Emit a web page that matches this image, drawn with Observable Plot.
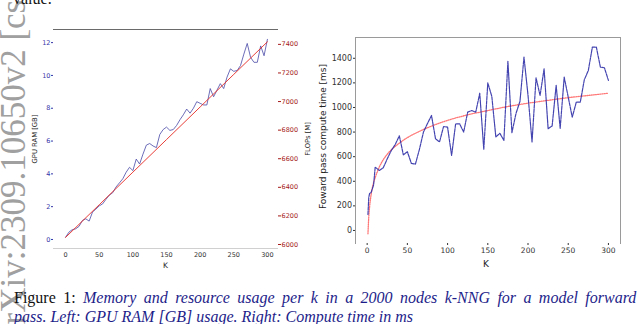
<!DOCTYPE html>
<html><head><meta charset="utf-8">
<script src="https://cdn.jsdelivr.net/npm/d3@7"></script>
<script src="https://cdn.jsdelivr.net/npm/@observablehq/plot@0.6"></script>
<style>
html,body{margin:0;padding:0;background:#fff;}
#page{position:relative;width:640px;height:324px;overflow:hidden;background:#fff;}
#page > svg{position:absolute;top:0;}
</style></head>
<body><div id="page"></div>
<script>
// ---------- data ----------
const kTicks = [0, 50, 100, 150, 200, 250, 300];
const gpuTicks = [0, 2, 4, 6, 8, 10, 12];
const flopTicks = [6000, 6200, 6400, 6600, 6800, 7000, 7200, 7400];
const timeTicks = [0, 200, 400, 600, 800, 1000, 1200, 1400];

const kGpu = [0,5,10,15,20,25,30,35,40,45,50,55,60,65,70,75,80,85,90,95,100,105,110,115,120,125,130,135,140,145,150,155,160,165,170,175,180,185,190,195,200,205,210,215,220,225,230,235,240,245,250,255,260,265,270,275,280,285,290,295,300];
const gpuRam = [0.14,0.45,0.6,0.65,0.8,1.16,1.26,1.12,1.67,1.85,2.05,2.17,2.45,2.7,2.85,3.2,3.45,3.7,4.1,4.4,4.2,4.9,4.6,5.2,5.75,5.85,5.7,5.6,6.4,6.7,6.85,6.65,6.7,6.95,7.3,7.6,7.95,7.7,8.0,8.4,8.3,8.2,8.2,9.2,8.7,9.1,9.5,9.2,9.9,10.4,10.25,10.3,10.6,11.3,11.95,11.1,10.8,10.8,11.8,11.2,12.2];

const kFlops = [0, 50, 100, 150, 200, 250, 300];
const flops = [6050, 6278, 6506, 6734, 6962, 7190, 7418];

const kTime = [1,2,3,5,8,10,15,20,25,30,35,40,45,50,55,60,65,70,75,80,85,90,95,100,105,110,115,120,125,130,135,140,145,150,155,160,165,170,175,180,185,190,195,200,205,210,215,220,225,230,235,240,245,250,255,260,265,270,275,280,285,290,295,300];
const timeMs = [130,270,300,310,370,515,488,510,583,650,700,770,615,640,545,540,660,800,870,935,745,720,845,840,610,867,867,800,962,975,962,1116,660,1200,1090,760,790,732,1375,795,950,1050,1409,1100,720,1241,1098,1314,827,850,1180,830,1247,1084,921,1043,1043,1225,1301,1490,1490,1328,1323,1220];

const kFit = [1,2,3,5,8,10,15,20,25,30,40,50,60,75,100,125,150,175,200,225,250,275,300];
const timeFit = [-27,110,190,295,390,430,515,575,620,655,710,755,790,835,895,940,975,1008,1035,1058,1080,1098,1116];

const gpuData = kGpu.map((k, i) => ({k, v: gpuRam[i]}));
const flopData = kFlops.map((k, i) => ({k, v: flops[i]}));
const timeData = kTime.map((k, i) => ({k, v: timeMs[i]}));
const fitData = kFit.map((k, i) => ({k, v: timeFit[i]}));

const page = document.getElementById("page");
const font = "DejaVu Sans";
const lbl = {text: d => d, textAnchor: "middle", lineAnchor: "middle", fill: "#222"};

// ---------- left chart: GPU RAM ----------
const leftDims = {width: 320, height: 275, marginLeft: 53, marginRight: 43, marginTop: 29, marginBottom: 27};
const leftX = {domain: [-18, 315]};
const left = Plot.plot({
  ...leftDims,
  x: leftX,
  y: {domain: [-0.55, 12.8]},
  style: {fontFamily: font, fontSize: "6.5px", background: "transparent", overflow: "visible"},
  marks: [
    Plot.frame({anchor: "top", stroke: "#6a6a6a"}),
    Plot.frame({anchor: "bottom", stroke: "#d0d0d0"}),
    Plot.axisX({ticks: kTicks, tickSize: 0, tickPadding: 4, color: "#333", label: null, tickFormat: "d"}),
    Plot.axisY({ticks: gpuTicks, tickSize: 2, tickPadding: 1, color: "#3535a8", label: null, tickFormat: "d"}),
    Plot.line(gpuData, {x: "k", y: "v", stroke: "#4a4aa8", strokeWidth: 0.9, strokeOpacity: 0.9}),
    Plot.text(["GPU RAM [GB]"], {...lbl, frameAnchor: "left", dx: -18.5, rotate: -90, fontSize: 6.8}),
    Plot.text(["K"], {...lbl, frameAnchor: "bottom", dy: 17, fontSize: 7.5})
  ]
});
left.style.left = "0px";
page.appendChild(left);

const leftR = Plot.plot({
  ...leftDims,
  x: {...leftX, axis: null},
  y: {domain: [5972, 7504]},
  style: {fontFamily: font, fontSize: "6.5px", background: "transparent", overflow: "visible"},
  marks: [
    Plot.axisY({anchor: "right", ticks: flopTicks, tickSize: 3, tickPadding: 1, color: "#a51a1a", label: null, tickFormat: "d"}),
    Plot.line(flopData, {x: "k", y: "v", stroke: "#e62a24", strokeWidth: 1, strokeOpacity: 0.9}),
    Plot.text(["FLOPs [M]"], {...lbl, frameAnchor: "right", dx: 30, rotate: -90, fontSize: 6.8})
  ]
});
leftR.style.left = "0px";
page.appendChild(leftR);

// ---------- right chart: compute time ----------
const right = Plot.plot({
  width: 320, height: 275, marginLeft: 35, marginRight: 20, marginTop: 37, marginBottom: 32,
  x: {domain: [-14.5, 315]},
  y: {domain: [-106, 1569]},
  style: {fontFamily: font, fontSize: "8px", background: "transparent", overflow: "visible"},
  marks: [
    Plot.frame({anchor: "top", stroke: "#9a9a9a"}),
    Plot.frame({anchor: "left", stroke: "#9a9a9a"}),
    Plot.frame({anchor: "right", stroke: "#9a9a9a"}),
    Plot.axisX({ticks: kTicks, tickSize: 2, tickPadding: 2, color: "#333", fontSize: 7.5, label: null, tickFormat: "d"}),
    Plot.axisY({ticks: timeTicks, tickSize: 2, tickPadding: 1.5, color: "#333", fontSize: 8, label: null, tickFormat: "d"}),
    Plot.line(fitData, {x: "k", y: "v", stroke: "#ff3c3c", strokeWidth: 1.3, strokeOpacity: 0.7, strokeDasharray: "1,1.2", curve: "monotone-x"}),
    Plot.line(timeData, {x: "k", y: "v", stroke: "#3030a8", strokeWidth: 1.2, strokeOpacity: 0.9, strokeDasharray: "3.5,1"}),
    Plot.text(["Foward pass compute time [ms]"], {...lbl, frameAnchor: "left", dx: -32, dy: -4, rotate: -90, fontSize: 9}),
    Plot.text(["K"], {...lbl, frameAnchor: "bottom", dy: 21, dx: -2, fontSize: 9})
  ]
});
right.style.left = "320px";
page.appendChild(right);

// ---------- page decorations: watermark, text fragment, caption ----------
const ns = "http://www.w3.org/2000/svg";
const deco = document.createElementNS(ns, "svg");
deco.setAttribute("width", 640);
deco.setAttribute("height", 324);
deco.style.left = "0px";
deco.innerHTML = `
  <text transform="translate(25,340) rotate(-90)" font-family="Liberation Serif" font-size="35" fill="#a0a0a0">arXiv:2309.10650v2  [cs.LG]</text>
  <text x="13" y="4" font-family="Liberation Serif" font-size="16" fill="#111">value.</text>
  <text x="14" y="303" font-family="Liberation Serif" font-size="16" fill="#111" word-spacing="3.4">Figure 1: <tspan font-style="italic" fill="#1d1d8a">Memory and resource usage per k in a 2000 nodes k-NNG for a model forward</tspan></text>
  <text x="14" y="322" font-family="Liberation Serif" font-size="16" font-style="italic" fill="#1d1d8a">pass. Left: GPU RAM [GB] usage. Right: Compute time in ms</text>
`;
page.appendChild(deco);
</script>
</body></html>
